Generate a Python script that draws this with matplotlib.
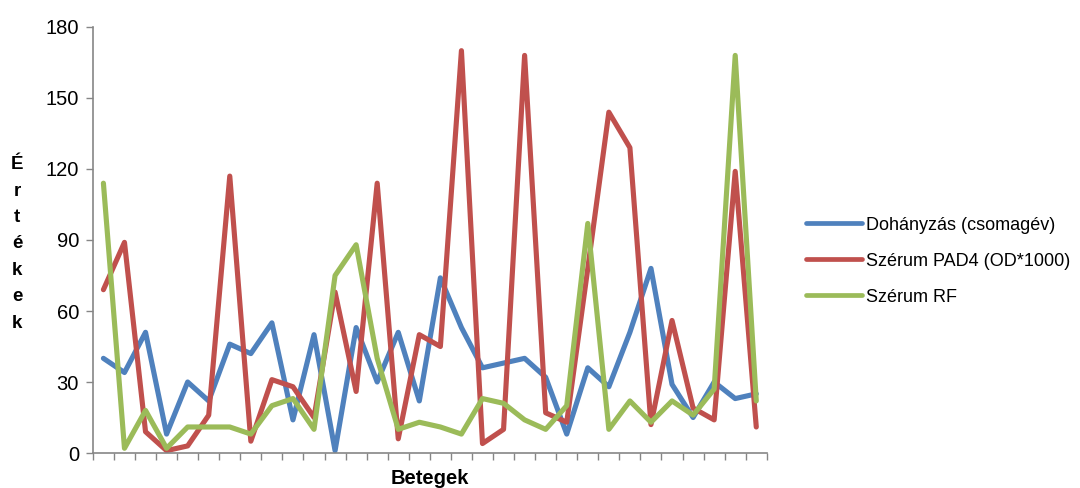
import numpy as np
import matplotlib
matplotlib.use("Agg")
import matplotlib.pyplot as plt

plt.rcParams["font.family"] = ["Liberation Sans", "DejaVu Sans"]

# patients 1..32, one value per patient for each series
patients = list(range(1, 33))
smoking = [40, 34, 51, 8, 30, 22, 46, 42, 55, 14, 50, 1, 53, 30, 51, 22,
           74, 53, 36, 38, 40, 32, 8, 36, 28, 51, 78, 29, 15, 30, 23, 25]
pad4 = [69, 89, 9, 1, 3, 16, 117, 5, 31, 28, 15, 68, 26, 114, 6, 50,
        45, 170, 4, 10, 168, 17, 13, 78, 144, 129, 12, 56, 19, 14, 119, 11]
rf = [114, 2, 18, 2, 11, 11, 11, 8, 20, 23, 10, 75, 88, 40, 10, 13,
      11, 8, 23, 21, 14, 10, 20, 97, 10, 22, 13, 22, 16, 27, 168, 22]

labels = ["Dohányzás (csomagév)", "Szérum PAD4 (OD*1000)", "Szérum RF"]
colors = ["#4F81BD", "#C0504D", "#9BBB59"]

fig = plt.figure(figsize=(10.8, 4.88), dpi=100)
ax = fig.add_axes([0.086, 0.0717, 0.624, 0.873])

x = np.arange(len(patients))
for vals, lab, col in zip([smoking, pad4, rf], labels, colors):
    ax.plot(x, vals, color=col, lw=3.7, label=lab,
            solid_joinstyle="round", solid_capstyle="round")

ax.set_xlim(-0.5, len(patients) - 0.5)
ax.set_ylim(0, 180)
ax.set_yticks(range(0, 181, 30))
ax.set_xticks(np.arange(-0.5, len(patients), 1.0))
ax.set_xticklabels([])

spine_col = "#868686"
for side in ["top", "right"]:
    ax.spines[side].set_visible(False)
for side in ["left", "bottom"]:
    ax.spines[side].set_color(spine_col)
    ax.spines[side].set_linewidth(1.2)
ax.tick_params(axis="both", colors=spine_col, width=1.0, length=5,
               direction="out", labelsize=14.5, labelcolor="black")
ax.tick_params(axis="y", pad=5)

ax.set_xlabel("Betegek", fontsize=14.5, fontweight="bold", labelpad=3)
fig.text(0.016, 0.50, "\n".join("Értékek"), fontsize=13.5, fontweight="bold",
         ha="center", va="center", linespacing=1.72)

leg = ax.legend(loc="center left", bbox_to_anchor=(0.746, 0.465),
                bbox_transform=fig.transFigure, frameon=False,
                fontsize=13, handlelength=3.1, handletextpad=0.22,
                labelspacing=1.05, borderpad=0, borderaxespad=0)
for line in leg.get_lines():
    line.set_linewidth(3.4)

fig.savefig("out.png", dpi=100)
